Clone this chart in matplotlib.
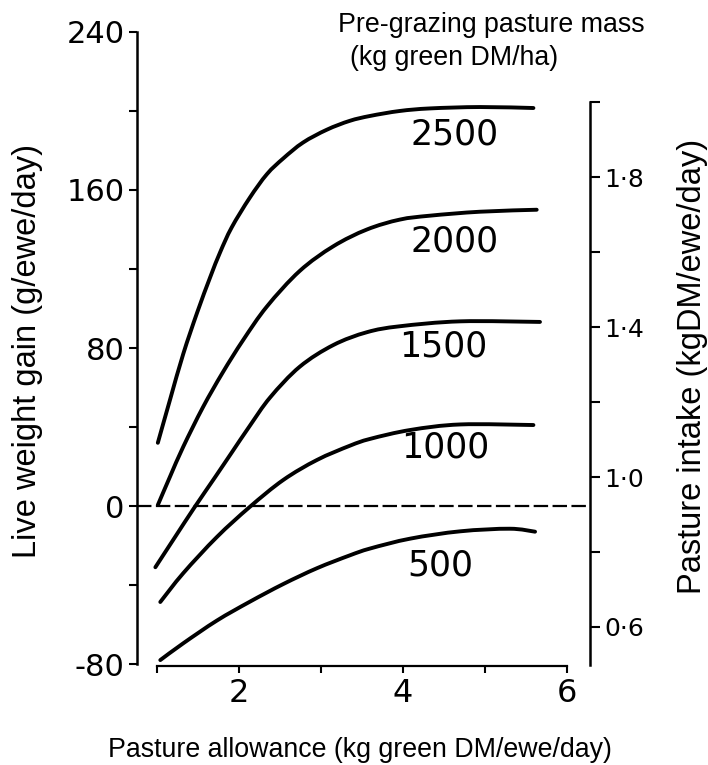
import matplotlib
matplotlib.use("Agg")
import matplotlib.pyplot as plt
from matplotlib.path import Path
from matplotlib.patches import PathPatch
from matplotlib.ticker import FixedLocator

# ── Data: live weight gain (g/ewe/day) vs pasture allowance ──────────────────
masses = ["2500", "2000", "1500", "1000", "500"]

x_2500 = [1.01, 1.16, 1.32, 1.49, 1.65, 1.77, 1.91, 2.13, 2.34, 2.54, 2.78,
          3.07, 3.35, 3.60, 3.96, 4.33, 4.94, 5.59]
y_2500 = [32, 54, 77, 98, 116, 128.5, 141, 156, 168, 176, 184,
          190.5, 195, 197.5, 200, 201.3, 202, 201.5]

x_2000 = [1.01, 1.16, 1.32, 1.56, 1.80, 2.05, 2.34, 2.74, 3.15, 3.56, 3.96,
          4.33, 4.94, 5.63]
y_2000 = [0.5, 15, 30, 50, 67.5, 84, 101, 119, 131.5, 140, 145,
          147, 149, 150]

x_1500 = [0.98, 1.22, 1.46, 1.71, 1.91, 2.13, 2.38, 2.74, 3.15, 3.56, 3.96,
          4.70, 5.67]
y_1500 = [-31, -15.7, -0.5, 14.7, 27, 40.5, 55, 70.5, 81.5, 88, 91,
          93.5, 93.2]

x_1000 = [1.04, 1.32, 1.73, 2.13, 2.54, 2.95, 3.35, 3.60, 4.09, 4.70, 5.59]
y_1000 = [-48.6, -34, -15.7, -0.5, 13.2, 23.3, 30.5, 34, 38.5, 41.3, 41]

x_500 = [1.04, 1.32, 1.73, 2.13, 2.54, 2.95, 3.35, 3.60, 4.09, 4.70, 5.30, 5.61]
y_500 = [-78, -69.5, -58, -48.5, -39.5, -31.5, -25, -21.5, -16.5, -12.8,
         -11.5, -13]

curves_x = [x_2500, x_2000, x_1500, x_1000, x_500]
curves_y = [y_2500, y_2000, y_1500, y_1000, y_500]

# where the pasture-mass labels sit (x, y in data units)
label_x = [4.63, 4.63, 4.49, 4.52, 4.45]
label_y = [188, 134, 81, 29.5, -30]

lwg_ticks = [-80, -40, 0, 40, 80, 120, 160, 200, 240]
lwg_labels = ["-80", "", "0", "", "80", "", "160", "", "240"]
intake_ticks = [0.6, 0.8, 1.0, 1.2, 1.4, 1.6, 1.8, 2.0]
intake_labels = ["0·6", "", "1·0", "", "1·4", "", "1·8", ""]
allow_ticks = [1, 2, 3, 4, 5, 6]
allow_labels = ["", "2", "", "4", "", "6"]


def smooth_path(xs, ys):
    """Cubic Bezier path passing through every (x, y) point."""
    pts = list(zip(xs, ys))
    n = len(pts)
    verts = [pts[0]]
    codes = [Path.MOVETO]
    for i in range(n - 1):
        p0 = pts[max(i - 1, 0)]
        p1 = pts[i]
        p2 = pts[i + 1]
        p3 = pts[min(i + 2, n - 1)]
        c1 = (p1[0] + (p2[0] - p0[0]) / 6, p1[1] + (p2[1] - p0[1]) / 6)
        c2 = (p2[0] - (p3[0] - p1[0]) / 6, p2[1] - (p3[1] - p1[1]) / 6)
        verts += [c1, c2, p2]
        codes += [Path.CURVE4] * 3
    return Path(verts, codes)


# ── Figure ───────────────────────────────────────────────────────────────────
fig = plt.figure(figsize=(7.08, 7.65), dpi=100)
fig.patch.set_facecolor("white")
ax = fig.add_axes([137 / 708, 1 - 666 / 765, 453 / 708, 636 / 765])
ax.set_xlim(0.756, 6.28)
ax.set_ylim(-81, 241)

LETTER = "DejaVu Sans"
SANS = "Liberation Sans"

for xs, ys in zip(curves_x, curves_y):
    ax.add_patch(PathPatch(smooth_path(xs, ys), facecolor="none",
                           edgecolor="black", linewidth=2.8,
                           joinstyle="round", capstyle="round"))

ax.axhline(0, color="black", linewidth=1.6, dashes=(6.5, 2.0))

for name, lx, ly in zip(masses, label_x, label_y):
    ax.text(lx, ly, name, fontsize=25, family=LETTER, ha="center",
            va="center", color="black")

# spines
for s in ["top", "right"]:
    ax.spines[s].set_visible(False)
ax.spines["left"].set_linewidth(1.8)
ax.spines["left"].set_bounds(-80, 240)
ax.spines["bottom"].set_linewidth(1.6)
ax.spines["bottom"].set_bounds(1, 6)

ax.yaxis.set_major_locator(FixedLocator(lwg_ticks))
ax.set_yticklabels(lwg_labels, fontsize=22, family=LETTER)
ax.tick_params(axis="y", direction="out", length=6, width=1.5, pad=3)

ax.xaxis.set_major_locator(FixedLocator(allow_ticks))
ax.set_xticklabels(allow_labels, fontsize=23, family=LETTER)
ax.tick_params(axis="x", direction="out", length=5, width=1.5, pad=4)

# right-hand axis: pasture intake
ax2 = ax.twinx()
ax2.set_ylim(0.496, 2.192)
for s in ["top", "left", "bottom"]:
    ax2.spines[s].set_visible(False)
ax2.spines["right"].set_linewidth(1.8)
ax2.spines["right"].set_bounds(0.5, 2.0)
ax2.yaxis.set_major_locator(FixedLocator(intake_ticks))
ax2.set_yticklabels(intake_labels, fontsize=18, family=LETTER)
ax2.tick_params(axis="y", direction="out", length=7, width=1.5, pad=3)

# axis titles and legend heading
fig.text(28 / 708, 1 - 351 / 765, "Live weight gain (g/ewe/day)",
         rotation=90, ha="center", va="center", fontsize=23.5, family=SANS)
fig.text(693 / 708, 1 - 366 / 765, "Pasture intake (kgDM/ewe/day)",
         rotation=90, ha="center", va="center", fontsize=23.5, family=SANS)
fig.text(360 / 708, 1 - 757 / 765,
         "Pasture allowance (kg green DM/ewe/day)",
         ha="center", va="baseline", fontsize=19.3, family=SANS)
fig.text(338 / 708, 1 - 32 / 765, "Pre-grazing pasture mass",
         ha="left", va="baseline", fontsize=19.3, family=SANS)
fig.text(350 / 708, 1 - 65 / 765, "(kg green DM/ha)",
         ha="left", va="baseline", fontsize=19.3, family=SANS)

fig.savefig("out.png", dpi=100, facecolor="white")
